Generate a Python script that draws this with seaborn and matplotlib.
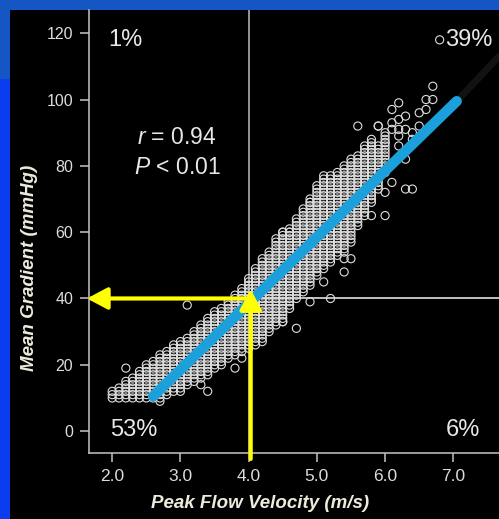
import numpy as np
import pandas as pd
import matplotlib
matplotlib.use("Agg")
import matplotlib.pyplot as plt
from matplotlib.patches import Rectangle
import seaborn as sns

# ---------------- data ----------------
# dense band of measurements: one column per 0.1 m/s, filled every 1 mmHg
band_vel = [2.0, 2.1, 2.2, 2.3, 2.4, 2.5, 2.6, 2.7, 2.8, 2.9,
            3.0, 3.1, 3.2, 3.3, 3.4, 3.5, 3.6, 3.7, 3.8, 3.9,
            4.0, 4.1, 4.2, 4.3, 4.4, 4.5, 4.6, 4.7, 4.8, 4.9,
            5.0, 5.1, 5.2, 5.3, 5.4, 5.5, 5.6, 5.7, 5.8, 5.9, 6.0]
band_lo = [10, 10, 10, 10, 10, 10, 10, 10, 11, 12,
           12, 14, 15, 16, 17, 19, 20, 22, 23, 24,
           25, 26, 28, 30, 32, 33, 37, 40, 42, 44,
           47, 49, 51, 53, 54, 57, 62, 65, 69, 73, 78]
band_hi = [12, 13, 15, 16, 18, 20, 21, 23, 24, 26,
           27, 28, 30, 32, 34, 36, 37, 39, 41, 43,
           46, 48, 51, 54, 58, 60, 61, 64, 67, 70,
           74, 77, 77, 78, 80, 82, 83, 86, 88, 86, 90]

# scattered points outside the dense band
out_vel = [6.8, 6.7, 6.6, 6.7, 6.6, 6.2, 6.3, 6.1, 6.2, 6.1, 6.2, 6.3, 6.4, 6.5,
           6.2, 6.4, 5.9, 6.0, 6.2, 6.3, 6.1, 6.0, 6.3, 6.4, 6.0, 5.8, 5.6, 5.9,
           5.4, 5.1, 5.2, 4.9, 5.5, 5.4, 4.7, 4.5, 4.2, 3.8, 3.9, 4.2, 4.1, 2.2,
           3.1, 3.4, 3.3, 2.7, 4.9, 5.0, 4.5, 4.6, 6.5, 6.1]
out_grad = [118, 104, 100, 100, 97, 99, 95, 93, 94, 91, 91, 91, 90, 92,
            89, 88, 92, 87, 86, 82, 75, 72, 73, 73, 65, 65, 92, 92,
            48, 45, 40, 39, 52, 52, 31, 33, 27, 19, 22, 52, 49, 19,
            38, 12, 14, 9, 69, 69, 60, 60, 96, 97]

# regression line end points
fit_vel = [2.6, 7.05]
fit_grad = [10.5, 99.5]

# cut-offs
cut_vel = 4.0
cut_grad = 40

x_ticks = [2.0, 3.0, 4.0, 5.0, 6.0, 7.0]
x_tick_labels = ["2.0", "3.0", "4.0", "5.0", "6.0", "7.0"]
y_ticks = [0, 20, 40, 60, 80, 100, 120]
y_tick_labels = ["0", "20", "40", "60", "80", "100", "120"]

quad_labels = ["1%", "39%", "53%", "6%"]
quad_vel = [2.2, 7.23, 2.32, 7.14]
quad_grad = [118, 118, 0.3, 0.3]

stats_lines = ["$r$ = 0.94", "$P$ < 0.01"]

# ---------------- build table ----------------
vx, gy = [], []
for v, lo, hi in zip(band_vel, band_lo, band_hi):
    for g in range(lo, hi + 1):
        vx.append(v)
        gy.append(g)
vx += out_vel
gy += out_grad
df = pd.DataFrame({"vel": vx, "grad": gy})
fit_df = pd.DataFrame({"vel": fit_vel, "grad": fit_grad})

# ---------------- style ----------------
plt.rcParams["font.family"] = ["Liberation Sans", "DejaVu Sans"]
plt.rcParams["mathtext.fontset"] = "custom"
plt.rcParams["mathtext.it"] = "Liberation Sans:italic"
plt.rcParams["mathtext.rm"] = "Liberation Sans"

W, H = 499, 519
fig = plt.figure(figsize=(W / 100, H / 100), dpi=100, facecolor="#1457c4")
# blue frame pieces and black slide panel
fig.patches.append(Rectangle((0, 0), 10 / W, 440 / H, transform=fig.transFigure,
                             facecolor="#0b3cf0", edgecolor="none", zorder=-2))
fig.patches.append(Rectangle((10 / W, 0), 1 - 10 / W, (H - 10) / H,
                             transform=fig.transFigure, facecolor="black",
                             edgecolor="none", zorder=-1))

ax = fig.add_axes([89 / W, 1 - 453 / H, (W - 89) / W, (453 - 10) / H])
ax.set_facecolor("black")
ax.patch.set_alpha(0)

ax.set_xlim(1.66, 7.67)
ax.set_ylim(-6.6, 127)

line_col = "#c4c4c4"
# quadrant lines
ax.axvline(cut_vel, color="#bdbdbd", lw=1.1, zorder=1)
ax.plot([cut_vel, 7.67], [cut_grad, cut_grad], color="#cfcfcf", lw=1.3, zorder=1)

# scatter
sns.scatterplot(data=df, x="vel", y="grad", ax=ax, marker="o", s=34,
                facecolor="none", edgecolor="#dedede", linewidth=0.8,
                zorder=2, legend=False)

# faint extension and regression line
ax.plot([7.05, 7.67], [99.5, 113], color="#121212", lw=5, zorder=2.5,
        solid_capstyle="round")
sns.lineplot(data=fit_df, x="vel", y="grad", ax=ax, color="#1ba0dc", lw=7.5,
             estimator=None, sort=False, zorder=3, solid_capstyle="round")

# yellow arrows
arrow_kw = dict(arrowstyle="-|>,head_length=0.62,head_width=0.33",
                mutation_scale=20, lw=3, color="#ffff00",
                shrinkA=0, shrinkB=0)
ax.annotate("", xy=(1.63, cut_grad), xytext=(cut_vel + 0.03, cut_grad),
            arrowprops=arrow_kw, annotation_clip=False, zorder=5)
ax.annotate("", xy=(cut_vel + 0.03, 42.8), xytext=(cut_vel + 0.03, -8.4),
            arrowprops=arrow_kw, annotation_clip=False, zorder=5)

# texts
for lab, xv, yv in zip(quad_labels, quad_vel, quad_grad):
    ax.text(xv, yv, lab, color="#e8e8e8", fontsize=17, ha="center", va="center")
ax.text(2.95, 88.4, stats_lines[0], color="#e8e8e8", fontsize=16.5,
        ha="center", va="center")
ax.text(2.95, 79.6, stats_lines[1], color="#e8e8e8", fontsize=16.5,
        ha="center", va="center")

# axes styling
for s in ["top", "right"]:
    ax.spines[s].set_visible(False)
for s in ["left", "bottom"]:
    ax.spines[s].set_color(line_col)
    ax.spines[s].set_linewidth(1.1)
ax.set_xticks(x_ticks)
ax.set_xticklabels(x_tick_labels)
ax.set_yticks(y_ticks)
ax.set_yticklabels(y_tick_labels)
ax.tick_params(axis="both", colors=line_col, length=6.5, width=1.1)
ax.tick_params(axis="x", labelsize=12.5, labelcolor="#dcdcdc", pad=5)
ax.tick_params(axis="y", labelsize=11.5, labelcolor="#dcdcdc", pad=5)

ax.set_xlabel("Peak Flow Velocity (m/s)", fontsize=13.5, fontweight="bold",
              fontstyle="italic", color="#ecebdc")
ax.set_ylabel("Mean Gradient (mmHg)", fontsize=13.5, fontweight="bold",
              fontstyle="italic", color="#ecebdc")
ax.xaxis.label.set_va("center")
ax.yaxis.label.set_va("center")
ax.xaxis.set_label_coords((260 - 89) / (W - 89), -(503 - 453) / (453 - 10))
ax.yaxis.set_label_coords((30 - 89) / (W - 89), (453 - 268) / (453 - 10))

fig.savefig("out.png", dpi=100, facecolor=fig.get_facecolor())
